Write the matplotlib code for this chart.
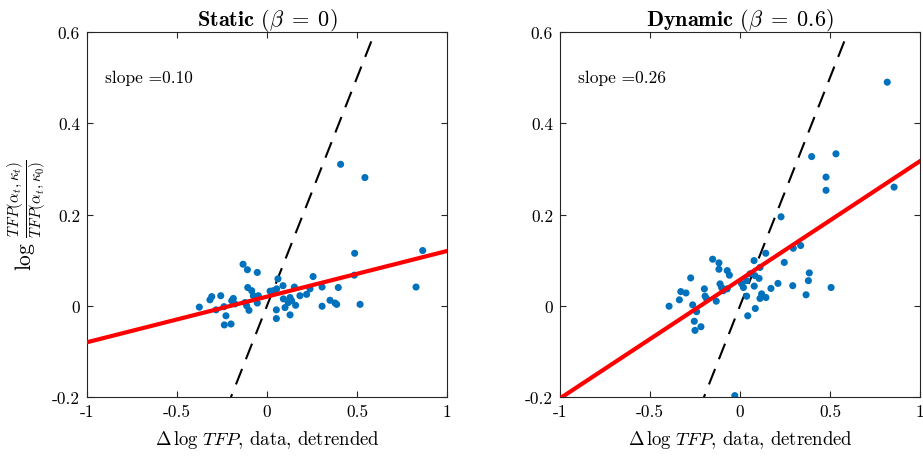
import numpy as np
import matplotlib
matplotlib.use("Agg")
import matplotlib.pyplot as plt

plt.rcParams['font.family'] = 'serif'
plt.rcParams['font.serif'] = ['cmr10']
plt.rcParams['mathtext.fontset'] = 'cm'
plt.rcParams['axes.unicode_minus'] = False

# --- data: Static (beta = 0) ---
static_x = [0.409, 0.544, 0.865, 0.487, 0.828, 0.485, 0.517, 0.396, 0.306, 0.306,
            0.350, 0.378, 0.387, 0.256, 0.239, 0.220, 0.183, 0.152, 0.159, 0.137,
            0.128, 0.118, 0.091, 0.100, 0.128, 0.089, 0.061, 0.054, 0.035, 0.017,
            0.052, 0.052, -0.054, -0.133, -0.109, -0.107, -0.085, -0.076, -0.048, -0.054,
            -0.122, -0.113, -0.100, -0.187, -0.178, -0.196, -0.257, -0.239, -0.283, -0.228,
            -0.237, -0.200, -0.307, -0.317, -0.376]
static_y = [0.310, 0.281, 0.121, 0.115, 0.041, 0.067, 0.003, 0.040, 0.041, -0.001,
            0.012, 0.006, 0.003, 0.064, 0.037, 0.025, 0.022, 0.041, 0.001, 0.011,
            0.018, 0.007, 0.015, -0.004, -0.020, 0.044, 0.059, 0.037, 0.033, 0.032,
            -0.009, -0.028, 0.073, 0.091, 0.079, 0.040, 0.033, 0.022, 0.022, 0.006,
            0.007, 0.000, -0.010, 0.016, 0.004, 0.011, 0.022, -0.002, -0.009, -0.022,
            -0.042, -0.040, 0.020, 0.013, -0.003]
static_slope = 0.10
static_intercept = 0.020

# --- data: Dynamic (beta = 0.6) ---
dyn_x = [0.818, 0.398, 0.533, 0.478, 0.478, 0.856, 0.228, 0.143, 0.246, 0.296,
         0.337, 0.385, 0.380, 0.367, 0.506, 0.293, 0.211, 0.172, 0.144, 0.120,
         0.111, 0.078, 0.111, 0.083, 0.106, 0.056, 0.037, 0.009, 0.019, 0.037,
         0.079, 0.085, 0.043, -0.029, -0.152, -0.117, -0.117, -0.071, -0.059, -0.111,
         -0.102, -0.071, -0.093, -0.198, -0.194, -0.185, -0.132, -0.274, -0.329, -0.300,
         -0.337, -0.394, -0.263, -0.241, -0.254, -0.250, -0.217]
dyn_y = [0.490, 0.327, 0.333, 0.282, 0.253, 0.260, 0.195, 0.115, 0.095, 0.126,
         0.132, 0.072, 0.055, 0.024, 0.040, 0.044, 0.049, 0.038, 0.018, 0.026,
         0.016, 0.099, 0.084, 0.066, 0.060, 0.070, 0.055, 0.048, 0.040, 0.021,
         0.043, -0.006, -0.022, -0.197, 0.102, 0.094, 0.080, 0.077, 0.067, 0.048,
         0.040, 0.037, 0.033, 0.037, 0.021, 0.015, 0.010, 0.061, 0.031, 0.028,
         0.013, -0.001, 0.002, -0.013, -0.034, -0.054, -0.046]
dyn_slope = 0.26
dyn_intercept = 0.057

xticks = [-1, -0.5, 0, 0.5, 1]
xticklabels = ['-1', '-0.5', '0', '0.5', '1']
yticks = [-0.2, 0, 0.2, 0.4, 0.6]
yticklabels = ['-0.2', '0', '0.2', '0.4', '0.6']

fig = plt.figure(figsize=(9.23, 4.60), dpi=100)
W, H = 923, 460
ax1 = fig.add_axes([87 / W, 62 / H, 360 / W, 365 / H])
ax2 = fig.add_axes([560 / W, 62 / H, 360 / W, 365 / H])

panels = [
    (ax1, static_x, static_y, static_slope, static_intercept,
     r'$\mathbf{Static}$ $(\beta\;=\;0)$', 'slope =0.10'),
    (ax2, dyn_x, dyn_y, dyn_slope, dyn_intercept,
     r'$\mathbf{Dynamic}$ $(\beta\;=\;0.6)$', 'slope =0.26'),
]

line_x = np.array([-1.0, 1.0])
for ax, xs, ys, sl, ic, title, txt in panels:
    ax.plot(line_x, line_x, color='black', lw=1.5, dashes=(8, 5), zorder=2)
    ax.scatter(xs, ys, s=26, color='#0072BD', edgecolors='none', zorder=3)
    ax.plot(line_x, ic + sl * line_x, color='#FF0000', lw=3.0, zorder=4)
    ax.set_xlim(-1, 1)
    ax.set_ylim(-0.2, 0.6)
    ax.set_xticks(xticks)
    ax.set_xticklabels(xticklabels)
    ax.set_yticks(yticks)
    ax.set_yticklabels(yticklabels)
    ax.tick_params(direction='in', top=True, right=True, labelsize=12.5,
                   length=4, width=0.8, color='#262626', pad=5)
    for sp in ax.spines.values():
        sp.set_color('#262626')
        sp.set_linewidth(0.8)
    ax.set_title(title, fontsize=16, pad=5)
    ax.set_xlabel(r'$\Delta\,\log\,TFP$, data, detrended', fontsize=13.5, labelpad=6)
    ax.text(-0.9, 0.5, txt, fontsize=12.5, ha='left', va='center')

ax1.set_ylabel(r'$\log\,\frac{TFP(\alpha_t,\kappa_t)}{TFP(\alpha_t,\kappa_0)}$', fontsize=15.5, labelpad=3)

fig.savefig('out.png', dpi=100)
